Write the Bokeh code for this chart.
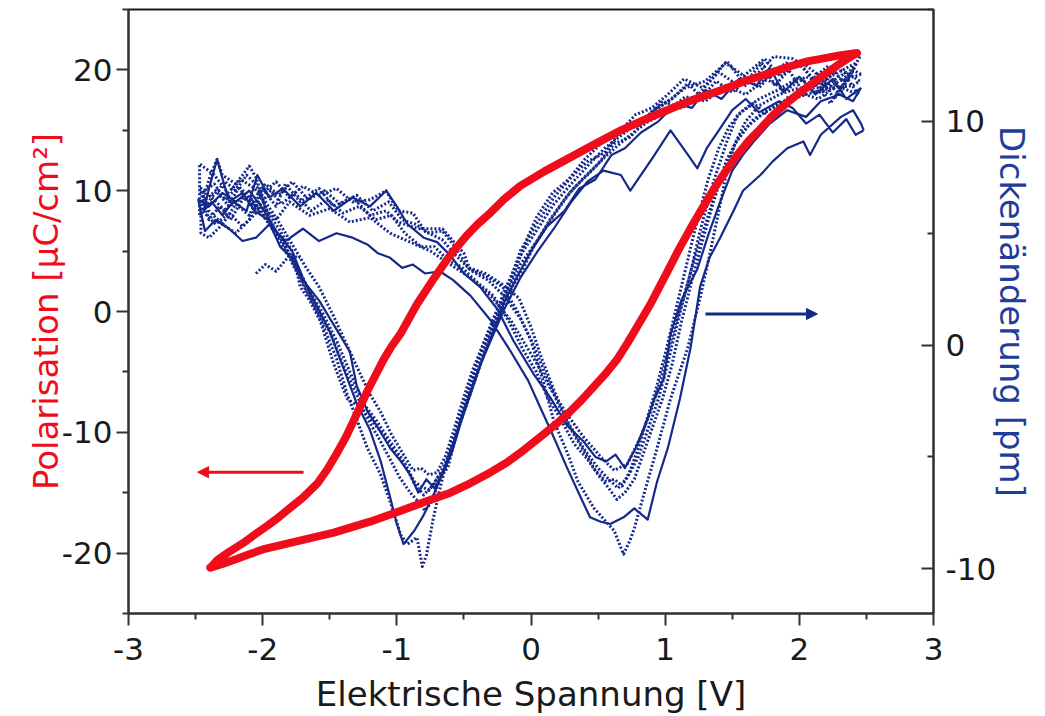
from bokeh.plotting import figure
from bokeh.models import (Range1d, LinearAxis, FixedTicker, Arrow, NormalHead,
                          CustomJSTickFormatter)
from bokeh.embed import file_html
from bokeh.resources import INLINE

# ---------------- data ----------------
x_ticks = [-3, -2, -1, 0, 1, 2, 3]
x_minor = [-2.5, -1.5, -0.5, 0.5, 1.5, 2.5]
p_ticks = [-20, -10, 0, 10, 20]
p_minor = [-25, -15, -5, 5, 15, 25]
pm_ticks = [-10, 0, 10]
pm_minor = [-5, 5, 15]

x_title = "Elektrische Spannung [V]"
p_title = "Polarisation [µC/cm²]"
pm_title = "Dickenänderung [pm]"

# Polarisation loop (V, uC/cm^2)
red_loop = [(-2.39, -21.2), (-2.3, -20.9), (-2.2, -20.5), (-2.1, -20.1), (-2.0, -19.7),
            (-1.85, -19.3), (-1.7, -18.9), (-1.47, -18.3), (-1.2, -17.4), (-0.97, -16.5),
            (-0.8, -15.8), (-0.6, -15.0), (-0.45, -14.2), (-0.3, -13.3), (-0.18, -12.5),
            (-0.08, -11.7), (0.1, -10.1), (0.2, -9.2), (0.29, -8.3), (0.38, -7.3),
            (0.47, -6.2), (0.56, -5.1), (0.64, -4.0), (0.72, -2.6), (0.80, -1.1),
            (0.89, 0.6), (0.97, 2.3), (1.04, 3.8), (1.1, 5.1), (1.19, 6.9), (1.28, 8.6),
            (1.35, 9.9), (1.42, 11.1), (1.54, 13.0), (1.62, 14.1), (1.7, 15.0), (1.8, 16.2),
            (1.91, 17.3), (2.0, 18.1), (2.1, 18.9), (2.2, 19.7), (2.3, 20.5), (2.40, 21.2),
            (2.43, 21.4),
            (2.3, 21.2), (2.2, 21.0), (2.06, 20.7), (1.9, 20.2), (1.8, 19.8), (1.6, 19.1),
            (1.41, 18.3), (1.2, 17.5), (1.0, 16.6), (0.83, 15.8), (0.67, 15.0), (0.5, 14.0),
            (0.3, 12.8), (0.1, 11.6), (-0.08, 10.4), (-0.2, 9.3), (-0.3, 8.2), (-0.4, 7.2),
            (-0.47, 6.4), (-0.6, 4.7), (-0.72, 2.8), (-0.85, 0.6), (-0.97, -1.8),
            (-1.04, -2.9), (-1.10, -4.0), (-1.16, -5.3), (-1.22, -6.6), (-1.27, -7.8),
            (-1.32, -9.0), (-1.38, -10.4), (-1.45, -11.8), (-1.52, -13.1), (-1.59, -14.2),
            (-1.7, -15.4), (-1.8, -16.3), (-1.9, -17.2), (-1.96, -17.7), (-2.05, -18.4),
            (-2.15, -19.2), (-2.25, -19.9), (-2.34, -20.6), (-2.39, -21.2)]

# Thickness change loops (V, pm)
loop_a = [(2.45, 11.8), (2.35, 12.2), (2.2, 11.6), (2.05, 12.0), (1.9, 11.4), (1.75, 11.9),
          (1.6, 11.2), (1.45, 11.6), (1.3, 10.9), (1.15, 11.1), (1.0, 10.4), (0.85, 9.9),
          (0.7, 9.2), (0.55, 8.4), (0.42, 7.6), (0.3, 6.9), (0.17, 5.8), (0.05, 4.7),
          (-0.08, 3.6), (-0.18, 2.3), (-0.27, 1.0), (-0.35, -0.4), (-0.43, -1.8), (-0.5, -3.0),
          (-0.57, -4.3), (-0.64, -5.3), (-0.72, -6.2), (-0.80, -6.7), (-0.87, -6.2),
          (-0.95, -5.2), (-1.05, -4.3), (-1.15, -3.4), (-1.25, -2.6), (-1.35, -1.2),
          (-1.45, 0.2), (-1.55, 1.4), (-1.65, 2.4), (-1.75, 3.6), (-1.85, 4.6), (-1.95, 5.4),
          (-2.05, 6.2), (-2.15, 6.6), (-2.25, 6.2), (-2.35, 6.9), (-2.45, 6.4),
          (-2.45, 6.0), (-2.35, 5.4), (-2.25, 5.9), (-2.15, 5.3), (-2.0, 6.2), (-1.9, 5.6),
          (-1.8, 6.4), (-1.65, 5.8), (-1.5, 6.1), (-1.35, 5.5), (-1.2, 5.7), (-1.05, 5.0),
          (-0.9, 4.6), (-0.75, 4.2), (-0.6, 3.6), (-0.45, 3.0), (-0.3, 2.2), (-0.15, 1.1),
          (-0.05, 0.1), (0.05, -0.9), (0.15, -2.0), (0.27, -3.1), (0.39, -4.1), (0.52, -5.0),
          (0.62, -5.6), (0.72, -5.3), (0.81, -4.2), (0.89, -3.0), (0.97, -1.5), (1.06, 0.6),
          (1.14, 2.2), (1.22, 3.9), (1.3, 5.4), (1.38, 6.9), (1.46, 8.3), (1.55, 9.3),
          (1.66, 10.1), (1.8, 10.6), (1.95, 11.0), (2.1, 11.3), (2.25, 11.5), (2.4, 11.6),
          (2.45, 11.8)]

loop_b = [(2.46, 12.1), (2.40, 12.3), (2.3, 11.2), (2.2, 11.8), (2.05, 12.5), (1.9, 12.6),
          (1.8, 12.2), (1.7, 11.5), (1.55, 12.2), (1.45, 12.6), (1.3, 11.8), (1.15, 11.5),
          (1.0, 10.8), (0.85, 10.2), (0.7, 9.5), (0.55, 8.8), (0.42, 8.0), (0.3, 7.2),
          (0.17, 6.3), (0.05, 5.2), (-0.08, 4.0), (-0.2, 2.4), (-0.3, 0.8), (-0.38, -0.4),
          (-0.45, -1.6), (-0.52, -3.0), (-0.6, -4.6), (-0.67, -6.2), (-0.73, -7.8),
          (-0.78, -9.4), (-0.81, -9.9), (-0.85, -8.6), (-0.92, -8.9), (-0.97, -8.5),
          (-1.05, -7.0), (-1.12, -5.8), (-1.22, -4.6), (-1.30, -3.3), (-1.37, -2.2),
          (-1.45, -0.6), (-1.55, 0.9), (-1.65, 2.2), (-1.75, 3.4), (-1.85, 4.6), (-1.95, 5.6),
          (-2.05, 7.5), (-2.1, 8.0), (-2.2, 7.2), (-2.3, 7.6), (-2.34, 8.3), (-2.4, 7.4),
          (-2.46, 6.2), (-2.46, 5.0), (-2.4, 4.8), (-2.3, 5.4), (-2.2, 5.0), (-2.1, 5.6),
          (-2.0, 6.8), (-1.9, 7.3), (-1.8, 6.6), (-1.7, 7.1), (-1.58, 6.7), (-1.45, 7.0),
          (-1.33, 6.4), (-1.2, 6.5), (-1.08, 6.9), (-0.99, 6.0), (-0.88, 5.9), (-0.78, 5.0),
          (-0.66, 5.1), (-0.58, 4.5), (-0.46, 3.4), (-0.34, 3.1), (-0.21, 2.6), (-0.1, 1.5),
          (0.0, 0.2), (0.1, -1.8), (0.17, -3.4), (0.27, -4.8), (0.35, -6.1), (0.47, -7.3),
          (0.56, -7.9), (0.62, -8.3), (0.69, -9.35), (0.74, -8.7), (0.77, -8.2), (0.84, -6.7),
          (0.94, -4.6), (1.04, -2.4), (1.17, -0.1), (1.26, 2.1), (1.33, 4.0), (1.40, 6.0),
          (1.46, 7.8), (1.52, 9.0), (1.6, 10.0), (1.7, 10.7), (1.85, 11.2), (2.0, 11.5),
          (2.15, 11.3), (2.3, 11.8), (2.46, 12.1)]

loop_c = [(2.48, 9.6), (2.42, 9.4), (2.35, 10.1), (2.25, 9.5), (2.15, 10.3), (2.05, 9.9),
          (1.95, 10.6), (1.85, 10.9), (1.7, 10.4), (1.6, 11.0), (1.5, 10.5), (1.4, 9.6),
          (1.31, 8.8), (1.24, 7.9), (1.17, 8.5), (1.04, 9.6), (0.91, 8.4), (0.74, 6.9),
          (0.67, 7.6), (0.54, 7.8), (0.42, 7.3), (0.3, 6.4), (0.17, 5.2), (0.05, 4.2),
          (-0.08, 3.0), (-0.2, 1.6), (-0.3, 0.2), (-0.4, -1.2), (-0.5, -2.9), (-0.58, -4.4),
          (-0.65, -5.6), (-0.72, -6.6), (-0.8, -7.6), (-0.87, -8.3), (-0.95, -8.9),
          (-1.0, -8.0), (-1.05, -6.8), (-1.12, -5.2), (-1.2, -3.8), (-1.3, -2.6), (-1.4, -1.0),
          (-1.5, 0.6), (-1.6, 1.8), (-1.7, 3.0), (-1.78, 4.2), (-1.9, 5.1), (-2.0, 6.1),
          (-2.1, 6.9), (-2.2, 6.4), (-2.3, 6.8), (-2.4, 6.2), (-2.48, 6.5),
          (-2.43, 5.1), (-2.35, 5.6), (-2.25, 5.2), (-2.15, 4.65), (-2.05, 4.8), (-1.95, 5.4),
          (-1.83, 4.65), (-1.7, 5.2), (-1.58, 4.65), (-1.45, 5.0), (-1.33, 4.8), (-1.22, 4.5),
          (-1.14, 4.1), (-1.05, 3.9), (-0.96, 3.45), (-0.88, 3.6), (-0.79, 3.2), (-0.68, 3.3),
          (-0.58, 2.9), (-0.45, 2.2), (-0.3, 1.1), (-0.15, -0.3), (-0.02, -1.6), (0.07, -2.8),
          (0.15, -3.85), (0.27, -5.5), (0.37, -6.8), (0.44, -7.7), (0.52, -7.9), (0.59, -8.0),
          (0.69, -7.7), (0.77, -7.3), (0.87, -7.8), (0.94, -6.1), (1.02, -4.6), (1.11, -2.4),
          (1.19, -0.1), (1.26, 2.6), (1.33, 3.9), (1.41, 4.8), (1.51, 6.0), (1.58, 6.9),
          (1.71, 7.6), (1.8, 8.2), (1.91, 8.8), (2.03, 9.1), (2.08, 8.5), (2.16, 9.4),
          (2.31, 10.2), (2.40, 10.5), (2.46, 9.9), (2.48, 9.6)]

loop_d = [(2.45, 12.9), (2.38, 12.0), (2.28, 12.4), (2.16, 11.5), (2.03, 12.4), (1.95, 12.8),
          (1.81, 12.9), (1.7, 12.2), (1.6, 11.6), (1.46, 12.7), (1.35, 11.9), (1.25, 11.2),
          (1.17, 11.7), (1.05, 11.0), (0.91, 10.5), (0.8, 9.8), (0.67, 9.6), (0.55, 8.6),
          (0.42, 8.2), (0.3, 7.5), (0.17, 6.6), (0.05, 5.5), (-0.08, 4.2), (-0.16, 2.8),
          (-0.25, 1.4), (-0.33, 0.3), (-0.41, -1.0), (-0.48, -2.4), (-0.55, -3.8), (-0.62, -5.5),
          (-0.70, -5.95), (-0.76, -6.5), (-0.82, -6.3), (-0.87, -6.1), (-0.94, -5.3),
          (-1.0, -4.9), (-1.12, -3.85), (-1.2, -3.3), (-1.27, -2.8), (-1.37, -2.4),
          (-1.47, -0.85), (-1.57, 1.07), (-1.65, 2.0), (-1.72, 2.6), (-1.78, 4.2), (-1.88, 5.2),
          (-1.97, 6.0), (-2.05, 7.2), (-2.12, 7.6), (-2.2, 6.9), (-2.28, 7.3), (-2.38, 6.6),
          (-2.46, 7.0), (-2.4, 6.0), (-2.3, 5.4), (-2.2, 6.3), (-2.1, 5.8), (-2.0, 7.0),
          (-1.9, 6.2), (-1.83, 7.2), (-1.72, 6.4), (-1.58, 7.0), (-1.47, 6.2), (-1.33, 6.6),
          (-1.2, 5.8), (-1.08, 6.0), (-0.99, 5.5), (-0.84, 5.2), (-0.66, 5.2), (-0.58, 4.65),
          (-0.5, 4.1), (-0.46, 3.45), (-0.34, 3.2), (-0.21, 2.7), (-0.09, 2.1), (0.0, 0.8),
          (0.08, -0.6), (0.17, -2.0), (0.27, -3.4), (0.39, -4.6), (0.5, -5.5), (0.58, -6.0),
          (0.65, -6.4), (0.72, -5.9), (0.8, -5.0), (0.87, -3.8), (0.95, -2.4), (1.02, -0.8),
          (1.1, 1.2), (1.18, 3.0), (1.26, 5.1), (1.36, 7.3), (1.46, 9.1), (1.54, 10.3),
          (1.66, 10.8), (1.78, 10.2), (1.91, 11.05), (2.08, 11.5), (2.16, 11.5), (2.23, 10.8),
          (2.32, 11.6), (2.40, 12.3), (2.45, 12.9)]

loop_e = [(2.46, 11.5), (2.35, 11.0), (2.25, 11.9), (2.12, 11.2), (2.0, 12.0), (1.88, 11.3),
          (1.78, 12.4), (1.68, 11.6), (1.55, 11.9), (1.42, 11.0), (1.3, 11.4), (1.2, 10.6),
          (1.08, 10.8), (0.95, 10.0), (0.82, 9.5), (0.7, 8.8), (0.6, 8.5), (0.48, 7.4),
          (0.36, 7.0), (0.25, 6.0), (0.12, 5.3), (0.0, 4.2), (-0.1, 3.1), (-0.2, 1.9),
          (-0.28, 0.6), (-0.36, -0.6), (-0.44, -2.0), (-0.52, -3.4), (-0.59, -4.8),
          (-0.66, -5.8), (-0.72, -6.4), (-0.78, -6.0), (-0.84, -6.6), (-0.9, -5.8),
          (-0.97, -5.2), (-1.05, -4.6), (-1.15, -3.6), (-1.22, -2.95), (-1.3, -1.8),
          (-1.35, -0.3), (-1.45, 0.7), (-1.58, 2.0), (-1.7, 2.9), (-1.77, 3.8), (-1.87, 4.4),
          (-1.96, 5.6), (-2.06, 6.0), (-2.15, 6.8), (-2.25, 6.4), (-2.34, 8.3), (-2.4, 7.0),
          (-2.44, 6.0), (-2.38, 6.4), (-2.3, 5.8), (-2.22, 6.4), (-2.12, 6.0), (-2.04, 7.6),
          (-1.95, 6.6), (-1.85, 7.0), (-1.72, 6.2), (-1.6, 6.8), (-1.47, 6.0), (-1.33, 6.6),
          (-1.2, 6.2), (-1.08, 6.9), (-1.0, 6.2), (-0.92, 5.4), (-0.8, 4.8), (-0.7, 4.6),
          (-0.6, 4.0), (-0.5, 3.2), (-0.38, 2.6), (-0.25, 1.6), (-0.13, 0.18), (0.02, -1.3),
          (0.15, -2.4), (0.27, -3.6), (0.39, -4.3), (0.48, -5.0), (0.56, -5.2), (0.63, -4.9),
          (0.7, -5.5), (0.78, -4.6), (0.85, -3.6), (0.92, -2.4), (0.99, -1.5), (1.04, 0.5),
          (1.12, 2.0), (1.24, 3.4), (1.32, 4.9), (1.41, 6.4), (1.5, 7.8), (1.58, 8.5),
          (1.66, 9.1), (1.78, 9.9), (1.91, 10.5), (2.05, 10.2), (2.16, 10.9), (2.3, 11.2),
          (2.40, 10.9), (2.46, 11.5)]

loop_f = [(2.44, 11.2), (2.36, 11.9), (2.26, 11.0), (2.14, 12.1), (2.02, 11.4), (1.92, 12.3),
          (1.82, 11.6), (1.72, 12.6), (1.62, 11.9), (1.5, 11.3), (1.38, 11.8), (1.26, 11.0),
          (1.12, 10.6), (0.98, 10.9), (0.86, 10.1), (0.74, 9.3), (0.62, 9.0), (0.5, 8.1),
          (0.38, 7.4), (0.26, 6.6), (0.14, 5.6), (0.02, 4.4), (-0.06, 3.4), (-0.14, 2.6),
          (-0.22, 1.5), (-0.31, 0.4), (-0.4, -0.9), (-0.47, -2.3), (-0.54, -3.6), (-0.61, -5.0),
          (-0.68, -6.0), (-0.74, -7.0), (-0.79, -7.4), (-0.84, -7.0), (-0.9, -6.6),
          (-0.98, -5.9), (-1.06, -5.0), (-1.14, -4.1), (-1.22, -3.3), (-1.3, -2.2),
          (-1.4, -0.9), (-1.5, 0.6), (-1.6, 1.6), (-1.7, 2.7), (-1.8, 3.9), (-1.9, 4.9),
          (-2.0, 5.9), (-2.08, 6.5), (-2.18, 7.1), (-2.28, 6.5), (-2.36, 7.2), (-2.46, 6.8),
          (-2.4, 5.6), (-2.32, 6.2), (-2.24, 5.6), (-2.14, 6.6), (-2.04, 6.1), (-1.94, 6.9),
          (-1.86, 6.3), (-1.76, 6.8), (-1.64, 6.0), (-1.52, 6.5), (-1.4, 5.9), (-1.28, 6.2),
          (-1.16, 5.6), (-1.04, 5.8), (-0.94, 5.0), (-0.82, 4.4), (-0.72, 4.4), (-0.62, 3.8),
          (-0.52, 3.5), (-0.4, 2.8), (-0.28, 2.2), (-0.16, 1.0), (-0.06, -0.2), (0.04, -1.2),
          (0.12, -2.3), (0.22, -3.3), (0.32, -4.4), (0.42, -5.1), (0.5, -5.8), (0.58, -6.4),
          (0.64, -6.9), (0.7, -6.6), (0.77, -6.0), (0.84, -4.8), (0.91, -3.6), (0.98, -2.4),
          (1.05, -0.9), (1.12, 1.0), (1.2, 2.9), (1.28, 4.7), (1.36, 6.4), (1.44, 7.9),
          (1.52, 9.0), (1.62, 9.8), (1.74, 10.4), (1.86, 10.8), (2.0, 11.3), (2.14, 11.0),
          (2.28, 11.6), (2.44, 11.2)]

loop_g = [(2.42, 12.6), (2.32, 11.8), (2.22, 12.5), (2.1, 11.9), (1.98, 12.7), (1.86, 12.0),
          (1.74, 12.8), (1.64, 12.3), (1.52, 11.7), (1.4, 12.2), (1.28, 11.5), (1.14, 11.9),
          (1.02, 11.2), (0.9, 10.6), (0.78, 10.3), (0.64, 9.4), (0.52, 9.0), (0.4, 8.3),
          (0.28, 7.4), (0.16, 6.8), (0.04, 5.7), (-0.04, 4.6), (-0.12, 3.3), (-0.2, 2.2),
          (-0.28, 1.2), (-0.36, 0.0), (-0.44, -1.2), (-0.51, -2.5), (-0.58, -3.9),
          (-0.64, -5.0), (-0.7, -5.7), (-0.76, -5.8), (-0.82, -5.5), (-0.88, -5.6),
          (-0.96, -4.8), (-1.04, -4.0), (-1.12, -3.0), (-1.2, -2.2), (-1.28, -1.2),
          (-1.38, 0.1), (-1.48, 1.4), (-1.58, 2.6), (-1.68, 3.5), (-1.78, 4.5), (-1.88, 5.5),
          (-1.98, 6.4), (-2.06, 7.0), (-2.16, 7.4), (-2.26, 6.8), (-2.36, 7.6), (-2.47, 8.1),
          (-2.47, 5.8), (-2.38, 6.6), (-2.28, 6.0), (-2.18, 7.0), (-2.08, 6.4), (-1.98, 7.2),
          (-1.88, 6.7), (-1.78, 7.3), (-1.66, 6.5), (-1.54, 6.9), (-1.42, 6.3), (-1.3, 6.7),
          (-1.18, 6.0), (-1.06, 6.4), (-0.96, 5.6), (-0.86, 5.4), (-0.76, 5.0), (-0.66, 4.7),
          (-0.56, 4.0), (-0.44, 3.3), (-0.32, 2.9), (-0.2, 2.2), (-0.08, 1.2), (0.02, 0.0),
          (0.1, -1.2), (0.2, -2.6), (0.3, -3.8), (0.4, -4.8), (0.48, -5.6), (0.56, -6.1),
          (0.62, -6.0), (0.68, -6.3), (0.74, -5.6), (0.8, -4.6), (0.86, -3.4), (0.93, -2.0),
          (1.0, -0.4), (1.08, 1.6), (1.16, 3.6), (1.24, 5.6), (1.32, 7.4), (1.4, 8.8),
          (1.48, 9.8), (1.58, 10.5), (1.7, 11.0), (1.84, 11.4), (1.98, 11.9), (2.12, 11.6),
          (2.26, 12.1), (2.42, 12.6)]

stray = [(-2.05, 3.2), (-1.98, 3.6), (-1.9, 3.3), (-1.8, 4.0), (-1.72, 3.9)]

# arrows: (tail V, head V, level)
red_arrow = (-1.695, -2.485, -13.3)     # on the polarisation axis
blue_arrow = (1.30, 2.135, 1.39)        # on the thickness axis

RED = "#ef0d1c"
BLUE = "#14298a"
BLUE_LABEL = "#1f3d99"
FONT = "DejaVu Sans"

p = figure(width=1045, height=716, x_range=Range1d(-3, 3), y_range=Range1d(-25, 25),
           output_backend="svg", toolbar_location=None,
           min_border_left=128, min_border_right=112, min_border_top=9, min_border_bottom=103)
p.extra_y_ranges = {"pm": Range1d(-12, 15)}
p.grid.visible = False
p.outline_line_color = "#1a1a1a"
p.outline_line_width = 2
p.background_fill_color = "white"
p.border_fill_color = "white"

right = LinearAxis(y_range_name="pm")
p.add_layout(right, "right")

plain = CustomJSTickFormatter(code="return tick.toString();")

def style_axis(ax, ticks, minor, title, color, inward=False):
    ax.ticker = FixedTicker(ticks=ticks, minor_ticks=minor)
    ax.formatter = plain
    ax.axis_line_color = "#333333"
    ax.axis_line_width = 2
    ax.major_tick_line_color = "#333333"
    ax.minor_tick_line_color = "#333333"
    ax.major_tick_line_width = 2
    ax.minor_tick_line_width = 2
    if inward:
        ax.major_tick_in, ax.major_tick_out = 12, 0
        ax.minor_tick_in, ax.minor_tick_out = 6, 0
    else:
        ax.major_tick_in, ax.major_tick_out = 0, 12
        ax.minor_tick_in, ax.minor_tick_out = 0, 6
    ax.major_label_text_font = FONT
    ax.major_label_text_font_size = "31px"
    ax.major_label_text_color = "#1a1a1a"
    ax.axis_label = title
    ax.axis_label_text_font = FONT
    ax.axis_label_text_font_size = "34px"
    ax.axis_label_text_font_style = "normal"
    ax.axis_label_text_color = color

style_axis(p.xaxis[0], x_ticks, x_minor, x_title, "#1a1a1a")
style_axis(p.yaxis[0], p_ticks, p_minor, p_title, RED)
style_axis(right, pm_ticks, pm_minor, pm_title, BLUE_LABEL, inward=True)
p.xaxis[0].major_label_standoff = 12
p.yaxis[0].major_label_standoff = 4
right.major_label_standoff = 12
p.xaxis[0].axis_label_standoff = 11
p.yaxis[0].axis_label_standoff = -7
right.axis_label_standoff = -7

# blue traces
for loop, dash, lw in [(loop_c, "solid", 2.2), (loop_e, "solid", 2.2),
                       (loop_a, "2 2", 3), (loop_b, "2 2", 3), (loop_d, "2 2", 3),
                       (loop_f, "2 2", 3), (loop_g, "2 2", 3), (stray, "2 2", 3)]:
    xs = [v for v, _ in loop]
    ys = [d for _, d in loop]
    p.line(xs, ys, y_range_name="pm", line_color=BLUE, line_width=lw,
           line_dash=dash, line_join="round")

# red loop
p.line([v for v, _ in red_loop], [q for _, q in red_loop], line_color=RED,
       line_width=8, line_join="round", line_cap="round")

# arrows
p.add_layout(Arrow(x_start=red_arrow[0], x_end=red_arrow[1], y_start=red_arrow[2],
                   y_end=red_arrow[2], line_color=RED, line_width=3,
                   end=NormalHead(size=11, fill_color=RED, line_color=RED, line_width=1)))
p.add_layout(Arrow(x_start=blue_arrow[0], x_end=blue_arrow[1], y_start=blue_arrow[2],
                   y_end=blue_arrow[2], y_range_name="pm", line_color=BLUE, line_width=3,
                   end=NormalHead(size=11, fill_color=BLUE, line_color=BLUE, line_width=1)))

open("out.html", "w").write(file_html(p, INLINE))
